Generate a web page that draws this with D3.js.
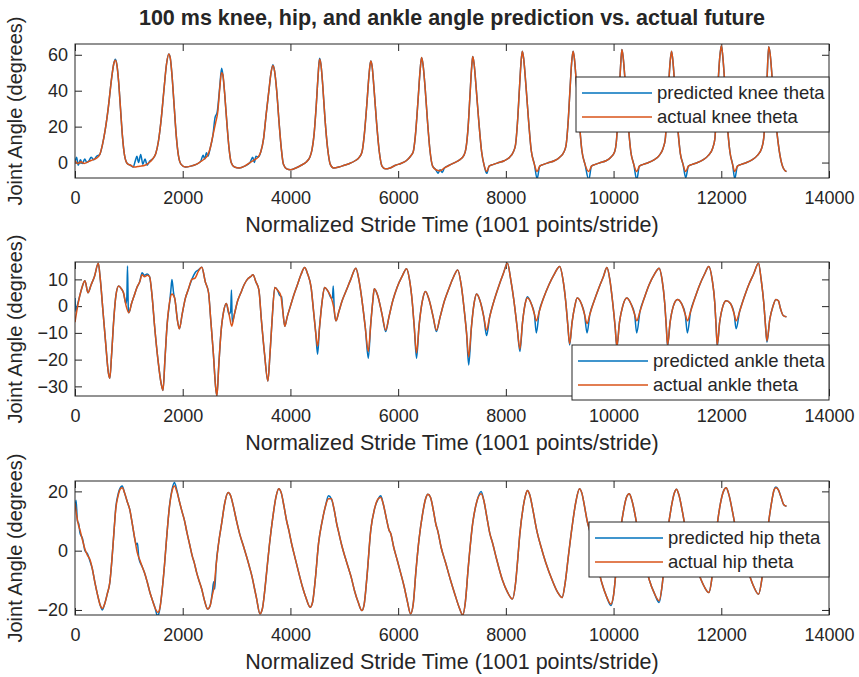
<!DOCTYPE html>
<html>
<head>
<meta charset="utf-8">
<script src="https://cdn.jsdelivr.net/npm/d3@7"></script>
<style>
  body { margin: 0; background: #fff; }
  svg { display: block; }
  text { font-family: "Liberation Sans", Arial, Helvetica, sans-serif; fill: #262626; }
</style>
</head>
<body>
<svg id="chart" width="859" height="677"></svg>
<script>
// ---- data -------------------------------------------------------------
const titleText = "100 ms knee, hip, and ankle angle prediction vs. actual future";
const xLabelText = "Normalized Stride Time (1001 points/stride)";
const yLabelText = "Joint Angle (degrees)";

const xTicks = [0, 2000, 4000, 6000, 8000, 10000, 12000, 14000];
const xLimits = [0, 14000];

const kneeTicks = [0, 20, 40, 60];
const kneeLimits = [-8.6, 66];
const ankleTicks = [-30, -20, -10, 0, 10];
const ankleLimits = [-33.6, 16.5];
const hipTicks = [-20, 0, 20];
const hipLimits = [-21.7, 23.5];

const kneeLegend = ["predicted knee theta", "actual knee theta"];
const ankleLegend = ["predicted ankle theta", "actual ankle theta"];
const hipLegend = ["predicted hip theta", "actual hip theta"];

// knee angle, [sample index, degrees]
const kneeActual = [
  [0,1],[50,-0.5],[110,0.5],[170,-0.5],[250,0.5],[330,1.5],[400,2.5],[460,4.5],[510,10],[560,18],[620,31],[680,47],[720,55],[750,57],[780,54],[810,45],[845,30],[880,15],[920,4],[970,-0.5],[1030,-1.5],[1100,-2.5],[1200,-2],[1300,-1.5],[1380,0],[1440,2],
  [1500,5],[1550,12],[1600,24],[1650,40],[1700,55],[1740,60.5],[1770,58],[1800,49],[1840,32],[1880,15],[1920,4],[1970,-1],[2050,-2.5],[2150,-2],[2250,-1],[2330,0.5],[2400,2],
  [2460,4],[2510,8],[2560,15],[2610,22],[2650,28],[2690,42],[2720,50],[2745,49],[2780,38],[2820,22],[2860,8],[2900,0],[2960,-2.5],[3050,-3],[3150,-2],[3250,0],[3330,1.5],[3400,3],
  [3450,6],[3500,13],[3550,27],[3600,40],[3640,50],[3675,54],[3705,51],[3745,40],[3790,22],[3830,8],[3870,-1],[3930,-3.5],[4000,-4],[4100,-3],[4200,-1.5],[4300,0.5],[4360,3],
  [4400,7],[4440,16],[4480,32],[4515,49],[4540,57.5],[4565,55],[4600,43],[4640,25],[4690,8],[4740,-1],[4800,-3],[4900,-2.5],[5000,-1.5],[5100,-0.5],[5200,1],[5280,3],
  [5330,6],[5370,15],[5420,33],[5460,49],[5490,56.5],[5515,54],[5550,42],[5600,22],[5650,6],[5700,-2],[5760,-3.5],[5850,-3],[5950,-1.5],[6050,-0.5],[6150,1],[6230,3.5],
  [6280,6],[6320,15],[6370,35],[6410,52],[6435,58.5],[6460,55],[6500,42],[6545,23],[6590,7],[6640,-2],[6700,-4],[6780,-4.5],[6860,-3],[6950,-1.5],[7050,0],[7140,1.5],[7220,4],
  [7260,8],[7300,20],[7335,38],[7365,53],[7385,59],[7410,55],[7450,41],[7500,22],[7550,6],[7600,-2],[7645,-5],[7690,-2],[7770,-1],[7870,0],[7970,1],[8070,3],[8140,6],
  [8180,10],[8215,22],[8250,40],[8280,55],[8305,62],[8330,58],[8370,44],[8420,24],[8470,7],[8530,-1],[8580,-5],[8630,-2],[8700,-1],[8800,0],[8900,1],[9000,3],[9080,6],
  [9120,10],[9155,22],[9190,40],[9220,55],[9248,62],[9272,58],[9310,44],[9360,24],[9410,7],[9470,-1],[9540,-5],[9590,-2],[9660,-1],[9760,0],[9860,1],[9950,3],[10020,6],
  [10050,11],[10080,24],[10110,42],[10135,56],[10155,63],[10180,58],[10220,43],[10270,22],[10320,6],[10375,-1],[10430,-5],[10480,-2],[10550,-1],[10650,0],[10750,1.5],[10850,4],[10920,8],
  [10960,13],[10990,26],[11020,42],[11050,56],[11076,62],[11100,57],[11140,41],[11190,20],[11240,5],[11290,-1],[11340,-5],[11390,-2],[11460,-1],[11560,0],[11660,1.5],[11760,4],[11840,8],
  [11880,13],[11910,27],[11940,44],[11970,58],[12000,65],[12025,60],[12065,44],[12110,22],[12160,6],[12210,-1],[12250,-5],[12300,-2],[12370,-1],[12470,0],[12570,1.5],[12670,4],[12750,8],
  [12790,14],[12820,28],[12850,47],[12880,64.5],[12905,61],[12945,47],[12990,30],[13040,15],[13090,4],[13150,-3],[13210,-5]
];
const kneePredicted = [
  [0,0],[30,3],[60,-1.5],[100,1.5],[140,-0.5],[180,2],[220,0],[260,1],[300,3],[350,1.5],[400,3.5],[460,4.5],[510,10],[560,18],[620,31],[680,47],[720,55],[750,57.5],[780,54],[810,45],[845,30],[880,15],[920,4],[970,-0.5],[1030,-1.5],[1080,-2.5],[1120,1],[1150,3.5],[1180,0],[1220,4.5],[1260,-1],[1300,2],[1340,-1.5],[1380,0.5],[1440,2],
  [1500,5],[1550,12],[1600,24],[1650,40],[1700,55],[1740,60.5],[1770,58],[1800,49],[1840,32],[1880,15],[1920,4],[1970,-1],[2050,-2.5],[2150,-2],[2250,-1],[2330,0.5],[2380,4],[2410,2],[2440,5.5],[2470,3.5],
  [2510,8],[2560,15],[2600,25],[2640,28],[2690,43],[2722,52.5],[2745,49],[2780,38],[2820,22],[2860,8],[2900,0],[2960,-2.5],[3050,-3],[3150,-2],[3250,0],[3300,3],[3330,0],[3360,3.5],[3400,3],
  [3450,6],[3500,13],[3550,27],[3600,40],[3640,50],[3675,54.5],[3705,51],[3745,40],[3790,22],[3830,8],[3870,-1],[3930,-3.5],[4000,-4],[4100,-3],[4200,-1.5],[4300,0.5],[4360,3],
  [4400,7],[4440,16],[4480,32],[4515,49],[4540,58],[4565,55],[4600,43],[4640,25],[4690,8],[4740,-1],[4800,-3],[4900,-2.5],[5000,-1.5],[5100,-0.5],[5200,1],[5280,3],
  [5330,6],[5370,15],[5420,33],[5460,49],[5490,56.5],[5515,54],[5550,42],[5600,22],[5650,6],[5700,-2],[5760,-3.5],[5850,-3],[5950,-1.5],[6050,-0.5],[6150,1],[6230,3.5],
  [6280,6],[6320,15],[6370,35],[6410,52],[6435,58.5],[6460,55],[6500,42],[6545,23],[6590,7],[6640,-2],[6700,-4],[6740,-6],[6780,-4],[6820,-5.5],[6860,-3],[6950,-1.5],[7050,0],[7140,1.5],[7220,4],
  [7260,8],[7300,20],[7335,38],[7365,53],[7385,59],[7410,55],[7450,41],[7500,22],[7550,6],[7600,-2],[7645,-6],[7690,-2],[7770,-1],[7870,0],[7970,1],[8070,3],[8140,6],
  [8180,10],[8215,22],[8250,40],[8280,55],[8305,62],[8330,58],[8370,44],[8420,24],[8470,7],[8530,-1],[8580,-9],[8630,-2],[8700,-1],[8800,0],[8900,1],[9000,3],[9080,6],
  [9120,10],[9155,22],[9190,40],[9220,55],[9248,62],[9272,58],[9310,44],[9360,24],[9410,7],[9470,-1],[9540,-9.5],[9590,-2],[9660,-1],[9760,0],[9860,1],[9950,3],[10020,6],
  [10050,11],[10080,24],[10110,42],[10135,56],[10155,63],[10180,58],[10220,43],[10270,22],[10320,6],[10375,-1],[10430,-9.5],[10480,-2],[10550,-1],[10650,0],[10750,1.5],[10850,4],[10920,8],
  [10960,13],[10990,26],[11020,42],[11050,56],[11076,62],[11100,57],[11140,41],[11190,20],[11240,5],[11290,-1],[11340,-8.5],[11390,-2],[11460,-1],[11560,0],[11660,1.5],[11760,4],[11840,8],
  [11880,13],[11910,27],[11940,44],[11970,58],[12000,65],[12025,60],[12065,44],[12110,22],[12160,6],[12210,-1],[12250,-9],[12300,-2],[12370,-1],[12470,0],[12570,1.5],[12670,4],[12750,8],
  [12790,14],[12820,28],[12850,47],[12880,64.5],[12905,61],[12945,47],[12990,30],[13040,15],[13090,4],[13150,-3],[13210,-5]
];

// ankle angle, [sample index, degrees]
const ankleActual = [
  [0,-6],[40,-1],[90,4],[130,7],[185,9.5],[240,5],[300,8],[360,11],[433,16],[470,10],[520,-2],[570,-14],[620,-25],[646,-27],[680,-18],[720,-5],[760,4],[810,7.5],[860,6.5],[900,5],[950,0],[1000,-2.5],[1050,1],[1100,4],[1150,7],[1200,9],[1246,11.7],[1290,11],[1340,11.5],[1385,11],[1430,4],[1480,-8],[1540,-20],[1600,-29],[1634,-31.5],
  [1670,-20],[1710,-7],[1760,2],[1800,4.5],[1850,3],[1900,-5],[1938,-8.5],[1990,-3],[2050,3],[2100,6],[2170,10],[2230,10.5],[2290,13],[2354,14.5],[2420,9],[2480,5],[2520,-5],[2570,-18],[2610,-30],[2635,-33.5],
  [2670,-22],[2710,-10],[2760,-2],[2810,1],[2860,-3],[2910,-7.5],[2960,-3],[3020,2],[3080,5],[3140,8],[3200,10],[3260,11],[3305,11.7],[3360,9],[3415,6],[3460,-5],[3520,-18],[3581,-28],
  [3620,-18],[3660,-5],[3710,7],[3760,6],[3820,4],[3860,-2],[3895,-7.5],[3940,-4],[4000,0],[4060,4],[4130,8],[4200,12],[4264,14.4],[4320,12],[4384,7],[4430,-2],[4470,-10],[4504,-15],
  [4540,-8],[4590,2],[4633,7],[4700,5.5],[4760,3],[4810,-1],[4845,-5.5],[4900,-2],[4960,2],[5040,6],[5120,10],[5215,14.2],[5270,10],[5330,2],[5390,-8],[5446,-17],
  [5490,-7],[5530,2],[5557,6.5],[5620,4],[5700,-3],[5769,-9],[5830,-4],[5900,2],[5980,7],[6070,11],[6156,14],[6210,10],[6260,2],[6300,-8],[6341,-17.5],
  [6390,-7],[6450,2],[6507,5.5],[6580,2],[6650,-4],[6710,-9],[6780,-4],[6860,2],[6950,7],[7030,11],[7107,13.5],[7170,8],[7230,-2],[7270,-10],[7310,-19],
  [7360,-8],[7410,1],[7458,4.5],[7520,2],[7590,-4],[7642,-9],[7700,-4],[7780,2],[7860,7],[7950,12],[8030,16],[8090,10],[8150,2],[8210,-8],[8261,-16],
  [8310,-6],[8360,1],[8400,3],[8470,1],[8530,-3],[8566,-5.5],[8620,-2],[8700,3],[8800,8],[8900,12],[9000,14.8],[9060,10],[9110,2],[9150,-7],[9184,-14],
  [9230,-6],[9280,0],[9323,3],[9400,1],[9460,-3],[9507,-6.5],[9560,-3],[9640,2],[9730,7],[9810,11],[9877,14.4],[9930,10],[9980,2],[10030,-8],[10061,-15],
  [10110,-6],[10170,0],[10245,3],[10320,1],[10390,-3],[10430,-5.5],[10490,-2],[10570,3],[10660,8],[10760,12],[10846,14.2],[10900,10],[10950,1],[10980,-8],[11002,-14.5],
  [11050,-6],[11110,0],[11187,2.5],[11260,1],[11330,-3],[11371,-5.5],[11430,-2],[11510,3],[11600,8],[11690,12],[11768,14.8],[11830,10],[11880,1],[11905,-8],[11925,-14.5],
  [11970,-6],[12030,0],[12091,2],[12170,1],[12240,-3],[12276,-5.5],[12340,-2],[12420,3],[12510,8],[12600,12],[12691,16],[12740,10],[12790,1],[12820,-7],[12848,-13],
  [12900,-5],[12960,0],[13014,2.5],[13060,2],[13100,-1],[13150,-3.5],[13210,-4]
];
const anklePredicted = [
  [0,3],[15,-2],[40,0],[90,4],[130,7],[185,9.5],[240,5],[300,8],[360,11],[433,16],[470,10],[520,-2],[570,-14],[620,-25],[646,-27],[680,-18],[720,-5],[760,4],[810,7.5],[860,6.5],[900,5],[945,1],[962,3],[975,15],[990,-1.5],[1000,-2.5],[1050,1],[1100,4],[1150,7],[1200,9],[1246,12.5],[1290,11.5],[1340,12],[1385,11],[1430,4],[1480,-8],[1540,-20],[1600,-29],[1634,-31.5],
  [1670,-20],[1710,-7],[1760,2],[1780,6],[1800,10],[1830,5],[1860,2],[1900,-5],[1938,-8.5],[1990,-3],[2050,3],[2100,6],[2170,10],[2230,12.5],[2290,13.5],[2354,14.5],[2420,9],[2480,5],[2520,-5],[2570,-18],[2610,-30],[2635,-33.5],
  [2670,-22],[2710,-10],[2760,-2],[2810,1],[2860,-3],[2890,-2],[2905,6],[2920,-6],[2960,-3],[3020,2],[3080,5],[3140,8],[3200,10],[3260,11],[3305,11.7],[3360,9],[3415,6],[3460,-5],[3520,-18],[3581,-28],
  [3620,-18],[3660,-5],[3710,7],[3760,6],[3800,4],[3835,3.5],[3860,-2],[3895,-7.5],[3940,-4],[4000,0],[4060,4],[4130,8],[4200,12],[4264,14.4],[4320,12],[4384,7],[4430,-2],[4470,-10],[4504,-18],
  [4540,-8],[4590,2],[4633,7],[4700,5.5],[4760,3],[4780,3],[4795,7.5],[4815,-2],[4845,-5.5],[4900,-2],[4960,2],[5040,6],[5120,10],[5215,14.2],[5270,10],[5330,2],[5390,-8],[5446,-19.5],
  [5490,-7],[5530,2],[5557,6.5],[5620,4],[5700,-3],[5769,-9.5],[5830,-4],[5900,2],[5980,7],[6070,11],[6156,14],[6210,10],[6260,2],[6300,-8],[6341,-19.5],
  [6390,-7],[6450,2],[6507,5.5],[6580,2],[6650,-4],[6710,-9.5],[6780,-4],[6860,2],[6950,7],[7030,11],[7107,13.5],[7170,8],[7230,-2],[7270,-10],[7310,-22],
  [7360,-8],[7410,1],[7458,4.5],[7520,2],[7590,-4],[7642,-11],[7700,-4],[7780,2],[7860,7],[7950,12],[8030,16],[8090,10],[8150,2],[8210,-8],[8261,-17],
  [8310,-6],[8360,1],[8400,3.5],[8470,1],[8530,-3],[8566,-10],[8620,-2],[8700,3],[8800,8],[8900,12],[9000,14.8],[9060,10],[9110,2],[9150,-7],[9184,-14.5],
  [9230,-6],[9280,0],[9323,3],[9400,1],[9460,-3],[9507,-10],[9560,-3],[9640,2],[9730,7],[9810,11],[9877,14.4],[9930,10],[9980,2],[10030,-8],[10061,-15.5],
  [10110,-6],[10170,0],[10245,3],[10320,1],[10390,-3],[10430,-10],[10490,-2],[10570,3],[10660,8],[10760,12],[10846,14.2],[10900,10],[10950,1],[10980,-8],[11002,-15],
  [11050,-6],[11110,0],[11187,2.5],[11260,1],[11330,-3],[11371,-10],[11430,-2],[11510,3],[11600,8],[11690,12],[11768,14.8],[11830,10],[11880,1],[11905,-8],[11925,-15],
  [11970,-6],[12030,0],[12091,2],[12170,1],[12240,-3],[12276,-8.5],[12340,-2],[12420,3],[12510,8],[12600,12],[12691,16],[12740,10],[12790,1],[12820,-7],[12848,-13.5],
  [12900,-5],[12960,0],[13014,2.5],[13060,2],[13100,-1],[13150,-3.5],[13210,-4]
];

// hip angle, [sample index, degrees]
const hipActual = [
  [0,16],[30,12],[60,9],[92,7],[140,3.5],[185,0.5],[230,-1.5],[277,-3],[320,-6],[370,-10.8],[420,-15],[470,-18.5],[508,-19.5],[550,-18],[600,-14.5],[646,-10.8],[690,-2],[730,8],[757,14],[800,18.5],[850,21],[877,21.2],
  [920,19.5],[970,16.5],[1015,14],[1060,9.5],[1110,4],[1154,-0.5],[1200,-3],[1250,-5.5],[1292,-7.5],[1340,-10.5],[1390,-14],[1430,-16.3],[1490,-19.5],[1541,-20.8],[1580,-19],[1620,-13],[1661,-5],[1700,4],[1754,14.8],[1800,20],[1846,21.8],
  [1890,20],[1940,16.5],[1990,13],[2031,10.3],[2080,6],[2130,2],[2180,-2],[2215,-4.1],[2260,-7.5],[2310,-10.5],[2354,-13],[2400,-16.5],[2464,-19.7],[2510,-18.5],[2550,-15],[2584,-12],[2620,-5],[2670,3],[2723,9.2],[2780,16],[2843,19.6],
  [2890,18.5],[2940,15],[3000,10],[3060,5.5],[3120,2],[3184,-1.9],[3240,-5.5],[3290,-9],[3323,-11.9],[3370,-16],[3434,-21.3],[3480,-19.5],[3520,-14],[3554,-8],[3610,2],[3674,11.4],[3730,18],[3784,20.9],
  [3830,19.5],[3880,15],[3930,10],[3969,7],[4020,2.5],[4080,-2],[4154,-7.4],[4220,-12],[4290,-16],[4366,-19.1],[4410,-17.5],[4460,-10],[4523,2.6],[4590,10],[4650,15],[4707,17.5],
  [4760,17.5],[4810,14],[4860,9],[4892,6.5],[4950,2],[5020,-2.5],[5080,-6],[5123,-8.6],[5190,-13.5],[5260,-17.5],[5326,-20.2],[5370,-18],[5420,-9],[5492,7],[5560,14],[5630,17.5],[5677,17.9],
  [5720,16],[5780,11],[5830,7],[5861,5.9],[5920,1],[5980,-3],[6046,-7.5],[6110,-12],[6170,-17],[6230,-21.3],[6280,-18],[6330,-7],[6387,3.7],[6450,12],[6510,17.5],[6553,19],
  [6600,18],[6660,13],[6700,9],[6738,6.5],[6800,1],[6880,-4],[6969,-9.7],[7050,-14.5],[7130,-19],[7199,-21.7],[7250,-17],[7300,-6],[7384,9.2],[7460,16.5],[7541,19.2],
  [7590,17],[7650,11],[7700,6],[7753,2.6],[7830,-3],[7938,-10],[8030,-14],[8122,-16.3],[8180,-11],[8220,-3],[8261,5.9],[8320,14.5],[8370,19],[8400,20.3],
  [8440,19],[8500,14],[8540,10],[8584,6],[8650,1.5],[8740,-4],[8861,-10],[8960,-14],[9045,-15.8],[9100,-11],[9160,-2],[9230,8.1],[9300,16.5],[9368,20.9],
  [9410,19.5],[9470,14],[9510,10],[9553,7],[9620,1],[9700,-5],[9784,-11],[9870,-15.5],[9950,-18],[10000,-15],[10050,-6],[10107,3.7],[10180,13],[10240,18],[10291,19.2],
  [10340,17],[10400,12],[10440,8],[10476,5],[10560,-2],[10661,-9.7],[10760,-14.5],[10846,-16.9],[10900,-12],[10950,-3],[11002,6],[11080,15.5],[11130,19.5],[11168,20.7],
  [11210,19],[11280,13],[11330,8],[11371,5],[11450,-1],[11584,-8],[11680,-12],[11768,-14.1],[11820,-10],[11860,-3],[11907,5.9],[11980,15.5],[12040,20],[12091,21.2],
  [12140,19],[12210,13],[12250,9],[12276,6],[12360,-1],[12507,-7.5],[12600,-12],[12691,-14.7],[12750,-10],[12800,-2],[12876,9.2],[12940,17],[12980,20.5],[13014,21.2],
  [13060,20.5],[13110,18],[13160,15.5],[13210,15]
];
const hipPredicted = [
  [0,14],[20,17],[45,10],[70,9],[92,6],[140,4],[185,0],[230,-1],[277,-3.5],[320,-6],[370,-10.8],[420,-15],[470,-18.5],[508,-20],[550,-18],[600,-14.5],[646,-10.8],[690,-2],[730,8],[757,14.5],[800,19],[850,21.5],[877,21.8],
  [920,19.5],[970,16.5],[1015,14],[1060,9.5],[1110,4],[1140,2],[1160,2.5],[1185,-2.5],[1250,-5.5],[1292,-7.5],[1340,-10.5],[1390,-14],[1430,-16.3],[1490,-19.5],[1530,-22],[1560,-21],[1580,-19],[1620,-13],[1661,-5],[1700,4],[1754,15],[1800,20.5],[1846,23],
  [1890,20.5],[1940,16.5],[1990,13],[2031,10.3],[2080,6],[2130,2],[2180,-2],[2215,-4.1],[2260,-7.5],[2310,-10.5],[2354,-13],[2400,-16.5],[2464,-19.7],[2510,-18.5],[2550,-14],[2575,-10.5],[2595,-13],[2620,-5],[2670,3],[2723,9.2],[2780,16],[2843,19.6],
  [2890,18.5],[2940,15],[3000,10],[3060,5.5],[3120,2],[3184,-1.9],[3240,-5.5],[3290,-9],[3323,-11.9],[3370,-16],[3434,-21.3],[3480,-19.5],[3520,-14],[3554,-8],[3610,2],[3674,11.4],[3730,18],[3784,20.9],
  [3830,19.5],[3880,15],[3930,10],[3969,7],[4020,2.5],[4080,-2],[4154,-7.4],[4220,-12],[4290,-16],[4366,-19.1],[4410,-17.5],[4460,-10],[4523,2.6],[4590,10],[4650,15],[4707,18.5],
  [4760,17.5],[4810,14],[4860,9],[4892,6.5],[4950,2],[5020,-2.5],[5080,-6],[5123,-8.6],[5190,-13.5],[5260,-17.5],[5326,-20.2],[5370,-18],[5420,-9],[5492,7],[5560,14],[5630,17.5],[5677,18.5],
  [5720,16],[5780,11],[5830,7],[5861,5.9],[5920,1],[5980,-3],[6046,-7.5],[6110,-12],[6170,-17],[6230,-21.3],[6280,-18],[6330,-7],[6387,3.7],[6450,12],[6510,17.5],[6553,19],
  [6600,18],[6660,13],[6700,9],[6738,6.5],[6800,1],[6880,-4],[6969,-9.7],[7050,-14.5],[7130,-19],[7199,-21.7],[7250,-17],[7300,-6],[7384,9.2],[7460,16.5],[7541,20],
  [7590,17],[7650,11],[7700,6],[7753,2.6],[7830,-3],[7938,-10],[8030,-14],[8122,-16.3],[8180,-11],[8220,-3],[8261,5.9],[8320,14.5],[8370,19],[8400,20.3],
  [8440,19],[8500,14],[8540,10],[8584,6],[8650,1.5],[8740,-4],[8861,-10],[8960,-14],[9045,-15.8],[9100,-11],[9160,-2],[9230,8.1],[9300,16.5],[9368,20.9],
  [9410,19.5],[9470,14],[9510,10],[9553,7],[9620,1],[9700,-5],[9784,-11],[9870,-15.5],[9950,-18.5],[10000,-15],[10050,-6],[10107,3.7],[10180,13],[10240,18],[10291,19.2],
  [10340,17],[10400,12],[10440,8],[10476,5],[10560,-2],[10661,-9.7],[10760,-14.5],[10846,-17.5],[10900,-12],[10950,-3],[11002,6],[11080,15.5],[11130,19.5],[11168,20.7],
  [11210,19],[11280,13],[11330,8],[11371,5],[11450,-1],[11584,-8],[11680,-12],[11768,-14.1],[11820,-10],[11860,-3],[11907,5.9],[11980,15.5],[12040,20],[12091,21.2],
  [12140,19],[12210,13],[12250,9],[12276,6],[12360,-1],[12507,-7.5],[12600,-12],[12691,-14.7],[12750,-10],[12800,-2],[12876,9.2],[12940,17],[12980,20.5],[13014,21.5],
  [13060,20.5],[13110,18],[13160,15.5],[13210,15]
];

// ---- layout -----------------------------------------------------------
const W = 859, H = 677;
const plotLeft = 75, plotRight = 829;
const colors = { predicted: "#0072BD", actual: "#D95319" };
const axisColor = "#262626";
const tickLen = 7;
const lineWidth = 1.5;

const panels = [
  { id: "knee", top: 44, bottom: 178, limits: kneeLimits, ticks: kneeTicks,
    actual: kneeActual, predicted: kneePredicted, legend: kneeLegend,
    legendBox: { x: 576, y: 77, w: 253, h: 55, lineX0: 582, lineX1: 652, textX: 657 } },
  { id: "ankle", top: 262, bottom: 396, limits: ankleLimits, ticks: ankleTicks,
    actual: ankleActual, predicted: anklePredicted, legend: ankleLegend,
    legendBox: { x: 572, y: 345, w: 257, h: 55, lineX0: 578, lineX1: 648, textX: 653 } },
  { id: "hip", top: 481, bottom: 615, limits: hipLimits, ticks: hipTicks,
    actual: hipActual, predicted: hipPredicted, legend: hipLegend,
    legendBox: { x: 589, y: 522, w: 240, h: 55, lineX0: 595, lineX1: 663, textX: 668 } }
];

const svg = d3.select("#chart");
svg.append("rect").attr("width", W).attr("height", H).attr("fill", "#fff");

const x = d3.scaleLinear().domain(xLimits).range([plotLeft, plotRight]);

svg.append("text")
  .attr("x", (plotLeft + plotRight) / 2).attr("y", 25)
  .attr("text-anchor", "middle")
  .attr("font-size", 21.5).attr("font-weight", "bold")
  .text(titleText);

panels.forEach(p => {
  const y = d3.scaleLinear().domain(p.limits).range([p.bottom, p.top]);
  const g = svg.append("g").attr("class", "panel-" + p.id);

  g.append("clipPath").attr("id", "clip-" + p.id)
    .append("rect").attr("x", plotLeft).attr("y", p.top)
    .attr("width", plotRight - plotLeft).attr("height", p.bottom - p.top);

  // axes with inward ticks on all four sides
  const bottomAxis = g.append("g").attr("transform", `translate(0,${p.bottom})`)
    .call(d3.axisBottom(x).tickValues(xTicks).tickFormat(d3.format("d"))
      .tickSizeInner(-tickLen).tickSizeOuter(0).tickPadding(13));
  const topAxis = g.append("g").attr("transform", `translate(0,${p.top})`)
    .call(d3.axisTop(x).tickValues(xTicks).tickFormat("")
      .tickSizeInner(-tickLen).tickSizeOuter(0));
  const leftAxis = g.append("g").attr("transform", `translate(${plotLeft},0)`)
    .call(d3.axisLeft(y).tickValues(p.ticks).tickFormat(d3.format("d"))
      .tickSizeInner(-tickLen).tickSizeOuter(0).tickPadding(7));
  const rightAxis = g.append("g").attr("transform", `translate(${plotRight},0)`)
    .call(d3.axisRight(y).tickValues(p.ticks).tickFormat("")
      .tickSizeInner(-tickLen).tickSizeOuter(0));

  [bottomAxis, topAxis, leftAxis, rightAxis].forEach(a => {
    a.select(".domain").remove();
    a.selectAll(".tick line").attr("stroke", axisColor);
    a.selectAll(".tick text").attr("fill", axisColor)
      .attr("font-size", 18).attr("font-family", '"Liberation Sans", Arial, sans-serif');
  });

  const line = d3.line().x(d => x(d[0])).y(d => y(d[1])).curve(d3.curveMonotoneX);
  const data = g.append("g").attr("clip-path", `url(#clip-${p.id})`);
  data.append("path").datum(p.predicted).attr("d", line)
    .attr("fill", "none").attr("stroke", colors.predicted).attr("stroke-width", lineWidth);
  data.append("path").datum(p.actual).attr("d", line)
    .attr("fill", "none").attr("stroke", colors.actual).attr("stroke-width", lineWidth);

  g.append("rect").attr("x", plotLeft).attr("y", p.top)
    .attr("width", plotRight - plotLeft).attr("height", p.bottom - p.top)
    .attr("fill", "none").attr("stroke", axisColor).attr("stroke-width", 1);

  // axis labels
  g.append("text")
    .attr("x", (plotLeft + plotRight) / 2).attr("y", p.bottom + 54)
    .attr("text-anchor", "middle").attr("font-size", 21.5)
    .text(xLabelText);
  g.append("text")
    .attr("transform", `translate(22,${(p.top + p.bottom) / 2}) rotate(-90)`)
    .attr("text-anchor", "middle").attr("font-size", 20)
    .text(yLabelText);

  // legend
  const L = p.legendBox;
  const lg = g.append("g");
  lg.append("rect").attr("x", L.x).attr("y", L.y).attr("width", L.w).attr("height", L.h)
    .attr("fill", "#fff").attr("stroke", axisColor).attr("stroke-width", 1);
  const rows = [
    { label: p.legend[0], color: colors.predicted, cy: L.y + 16 },
    { label: p.legend[1], color: colors.actual, cy: L.y + 40 }
  ];
  rows.forEach(r => {
    lg.append("line").attr("x1", L.lineX0).attr("x2", L.lineX1)
      .attr("y1", r.cy).attr("y2", r.cy)
      .attr("stroke", r.color).attr("stroke-width", lineWidth);
    lg.append("text").attr("x", L.textX).attr("y", r.cy + 6)
      .attr("font-size", 18.5).text(r.label);
  });
});
</script>
</body>
</html>
